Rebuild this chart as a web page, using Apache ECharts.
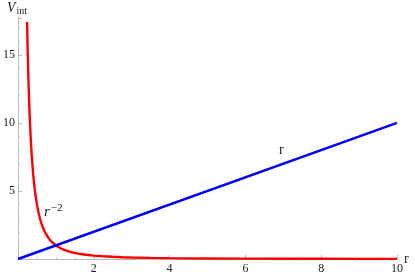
<!DOCTYPE html>
<html><head><meta charset="utf-8">
<script src="https://cdn.jsdelivr.net/npm/echarts@6/dist/echarts.min.js"></script>
<style>html,body{margin:0;padding:0;background:#fff}#c{width:415px;height:275px}</style>
</head><body><div id="c"></div>
<script>
const xTicks = [2, 4, 6, 8, 10];
const yTicks = [5, 10, 15];
const rRed = [0.24,0.25,0.26,0.27,0.28,0.29,0.3,0.32,0.34,0.36,0.38,0.4,0.43,0.46,0.5,0.54,0.58,0.62,0.66,0.7,0.75,0.8,0.85,0.9,0.95,1,1.1,1.2,1.3,1.4,1.5,1.6,1.8,2,2.25,2.5,2.75,3,3.5,4,4.5,5,6,7,8,9,10];
const vRed = [17.4,16,14.8,13.7,12.8,11.9,11.1,9.77,8.65,7.72,6.93,6.25,5.41,4.73,4,3.43,2.97,2.6,2.3,2.04,1.78,1.56,1.38,1.23,1.11,1,0.83,0.69,0.59,0.51,0.44,0.39,0.31,0.25,0.2,0.16,0.13,0.11,0.082,0.062,0.049,0.04,0.028,0.02,0.016,0.012,0.01];
const rBlue = [0, 10];
const vBlue = [0, 10];

const serif = '"Liberation Serif", "DejaVu Serif", serif';
const chart = echarts.init(document.getElementById('c'));
chart.setOption({
  animation: false,
  grid: {left: 15, right: 18, top: 18, bottom: 16, containLabel: false},
  xAxis: {
    type: 'value', min: 0, max: 10, interval: 2,
    axisLine: {lineStyle: {color: '#b8b8b8', width: 1}},
    axisTick: {show: true, inside: true, length: 4, lineStyle: {color: '#b8b8b8'}},
    minorTick: {show: true, splitNumber: 4, length: 2, lineStyle: {color: '#c8c8c8'}},
    splitLine: {show: false},
    axisLabel: {fontFamily: serif, fontSize: 12, color: '#222', margin: 4,
      formatter: v => xTicks.includes(v) ? String(v) : ''}
  },
  yAxis: {
    type: 'value', min: 0, max: 17.7, interval: 5,
    axisLine: {show: true, lineStyle: {color: '#b8b8b8', width: 1}},
    axisTick: {show: true, inside: true, length: 4, lineStyle: {color: '#b8b8b8'}},
    minorTick: {show: true, splitNumber: 5, length: 2, lineStyle: {color: '#c8c8c8'}},
    splitLine: {show: false},
    axisLabel: {fontFamily: serif, fontSize: 12, color: '#222', margin: 3, showMaxLabel: false,
      formatter: v => yTicks.includes(v) ? String(v) : ''}
  },
  series: [
    {type: 'line', data: rRed.map((r, i) => [r, vRed[i]]), showSymbol: false, smooth: false,
     lineStyle: {color: '#ff0000', width: 2.4}, clip: true},
    {type: 'line', data: rBlue.map((r, i) => [r, vBlue[i]]), showSymbol: false,
     lineStyle: {color: '#0000ff', width: 2.4}}
  ],
  graphic: [
    {type: 'text', left: 7, top: 1, style: {
      text: '{v|V}{s|int}', rich: {
        v: {fontFamily: serif, fontStyle: 'italic', fontSize: 14, fill: '#222'},
        s: {fontFamily: serif, fontSize: 10, fill: '#222', padding: [6, 0, 0, 1]}
      }}},
    {type: 'text', left: 404, top: 252, style: {text: 'r', fontFamily: serif, fontSize: 14, fill: '#222'}},
    {type: 'text', left: 279, top: 143, style: {text: 'r', fontFamily: serif, fontSize: 14, fill: '#222'}},
    {type: 'text', left: 44, top: 203, style: {
      text: '{v|r}{s|\u22122}', rich: {
        v: {fontFamily: serif, fontStyle: 'italic', fontSize: 15, fill: '#222'},
        s: {fontFamily: serif, fontSize: 11, fill: '#222', padding: [0, 0, 8, 1]}
      }}}
  ]
});
</script></body></html>
